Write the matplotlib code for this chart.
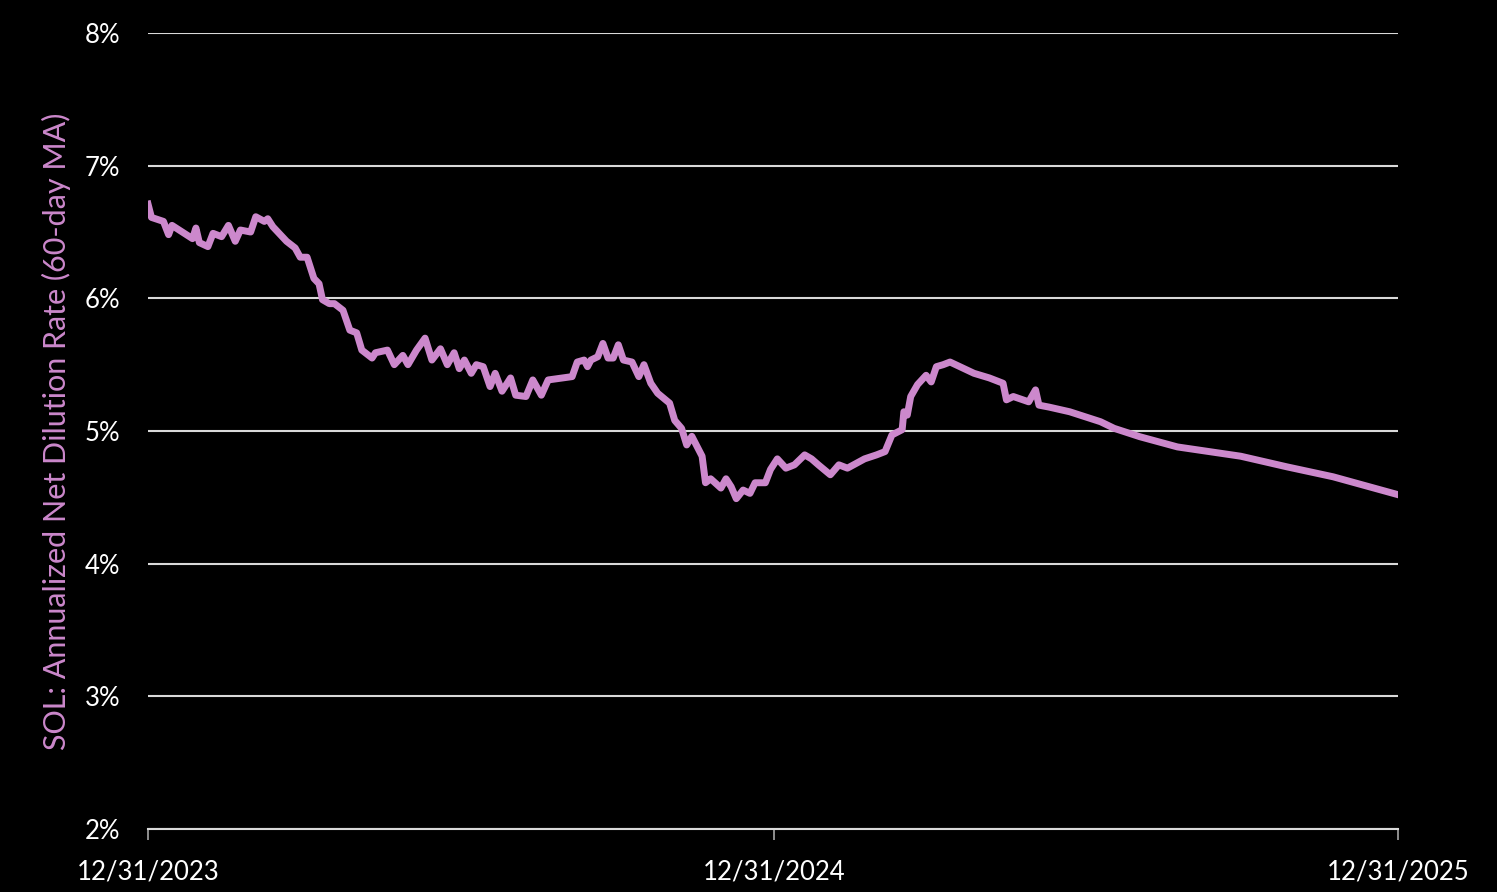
import numpy as np
import pandas as pd
import matplotlib
matplotlib.use("Agg")
import matplotlib.pyplot as plt

# days since 12/31/2023 and the 60-day MA net dilution rate (%)
days = [0, 2, 9, 12, 14, 26, 28, 30, 35, 38, 43, 47, 51, 54, 60, 63, 68, 70, 73,
        81, 86, 89, 93, 97, 100, 102, 106, 109, 114, 118, 122, 125, 131, 133, 140,
        144, 149, 152, 157, 162, 166, 171, 175, 179, 182, 185, 189, 192, 196, 200,
        203, 207, 212, 215, 221, 225, 230, 234, 248, 251, 255, 257, 259, 263, 266,
        269, 272, 275, 278, 283, 287, 290, 294, 298, 305, 308, 312, 315, 318, 324,
        326, 329, 335, 338, 341, 344, 348, 352, 355, 361, 364, 368, 373, 378, 384,
        388, 392, 399, 404, 409, 419, 426, 431, 435, 441, 442, 444, 446, 450, 455,
        458, 461, 465, 469, 483, 492, 500, 502, 506, 515, 519, 521, 527, 539, 545,
        557, 565, 580, 602, 639, 666, 693, 731]
rate = [6.71, 6.61, 6.58, 6.48, 6.55, 6.45, 6.53, 6.42, 6.39, 6.49, 6.465, 6.55, 6.43,
        6.515, 6.50, 6.615, 6.58, 6.60, 6.54, 6.43, 6.38, 6.31, 6.31, 6.15, 6.11,
        5.99, 5.96, 5.96, 5.91, 5.76, 5.74, 5.61, 5.55, 5.59, 5.61, 5.50, 5.57, 5.50,
        5.61, 5.70, 5.535, 5.62, 5.50, 5.59, 5.47, 5.535, 5.435, 5.50, 5.485, 5.335,
        5.435, 5.30, 5.40, 5.27, 5.26, 5.385, 5.27, 5.385, 5.41, 5.52, 5.535, 5.485,
        5.535, 5.56, 5.66, 5.55, 5.55, 5.65, 5.535, 5.52, 5.41, 5.50, 5.36, 5.285,
        5.21, 5.08, 5.02, 4.895, 4.96, 4.81, 4.61, 4.64, 4.57, 4.64, 4.58, 4.49,
        4.555, 4.53, 4.61, 4.61, 4.71, 4.79, 4.72, 4.745, 4.82, 4.79, 4.745, 4.67,
        4.745, 4.72, 4.79, 4.82, 4.845, 4.97, 5.01, 5.145, 5.12, 5.26, 5.35, 5.42,
        5.37, 5.485, 5.50, 5.52, 5.435, 5.40, 5.36, 5.235, 5.26, 5.22, 5.31, 5.195,
        5.18, 5.145, 5.12, 5.07, 5.02, 4.957, 4.88, 4.81, 4.73, 4.655, 4.52]

start = pd.Timestamp("2023-12-31")
dates = start + pd.to_timedelta(days, unit="D")
xticks = pd.to_datetime(["2023-12-31", "2024-12-31", "2025-12-31"])
yticks = [2, 3, 4, 5, 6, 7, 8]

plt.rcParams['font.family'] = ['Lato', 'DejaVu Sans']

fig = plt.figure(figsize=(14.97, 8.92), dpi=100, facecolor='black')
ax = fig.add_axes([0.0989, 0.0706, 0.835, 0.8924], facecolor='black')

ax.plot(dates, np.array(rate) / 100, color='#CC88CC', lw=5, solid_joinstyle='round', zorder=3)

ax.set_ylim(0.02, 0.08)
ax.set_xlim(xticks[0], xticks[-1])
ax.set_yticks(np.array(yticks) / 100)
ax.set_yticklabels([f"{v}%" for v in yticks])
ax.set_xticks(xticks)
ax.set_xticklabels([d.strftime("%m/%d/%Y") for d in xticks])

ax.grid(axis='y', color='#D9D9D9', lw=1.5)
ax.set_axisbelow(True)
for s in ['top', 'right', 'left']:
    ax.spines[s].set_visible(False)
ax.spines['bottom'].set_color('#D9D9D9')
ax.spines['bottom'].set_linewidth(1.5)

ax.tick_params(axis='y', length=0, pad=20, labelsize=18.5, labelcolor='white')
ax.tick_params(axis='x', length=8, width=1.2, color='#A6A6A6', pad=14,
               labelsize=18.5, labelcolor='white')

ax.set_ylabel("SOL: Annualized Net Dilution Rate (60-day MA)", color='#CC88CC',
              fontsize=22, labelpad=10)

fig.savefig("out.png", dpi=100, facecolor='black')
